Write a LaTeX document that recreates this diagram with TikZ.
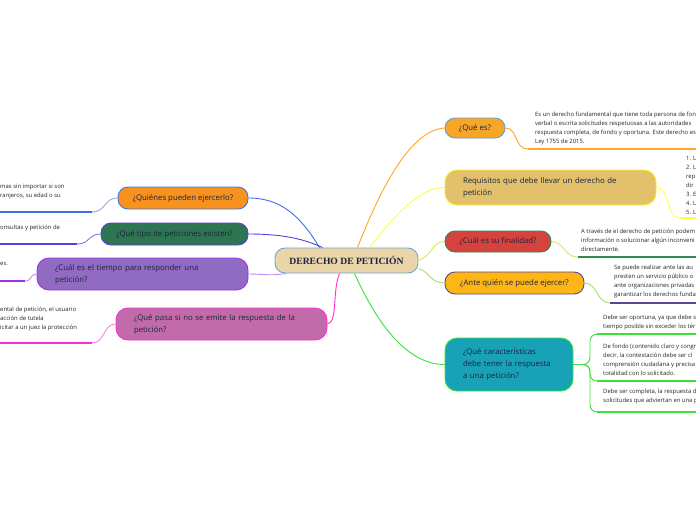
\documentclass[tikz,border=0pt]{standalone}
\usepackage{fontspec}
\setmainfont{Open Sans}
\newfontfamily\titlefont{Liberation Serif}
\usetikzlibrary{calc}
\definecolor{txt}{HTML}{1B2340}
\definecolor{ctrF}{HTML}{EAD5A8}
\definecolor{ctrB}{HTML}{6BA7D8}
\definecolor{quienF}{HTML}{F7921E}
\definecolor{quienB}{HTML}{3C74E6}
\definecolor{tipoF}{HTML}{2E7552}
\definecolor{tipoB}{HTML}{5A3FE0}
\definecolor{tiempoF}{HTML}{916AC2}
\definecolor{tiempoB}{HTML}{A030F0}
\definecolor{tiempoL}{HTML}{C28CF5}
\definecolor{pasaF}{HTML}{C26BAA}
\definecolor{pasaB}{HTML}{FF2ECC}
\definecolor{queF}{HTML}{F7A625}
\definecolor{queB}{HTML}{5B9FE0}
\definecolor{queL}{HTML}{FFA626}
\definecolor{reqF}{HTML}{E2C06C}
\definecolor{reqB}{HTML}{F8F020}
\definecolor{reqL}{HTML}{FFFF40}
\definecolor{finF}{HTML}{D6433E}
\definecolor{finB}{HTML}{2F8A52}
\definecolor{finL}{HTML}{D2EE4A}
\definecolor{anteF}{HTML}{FDB616}
\definecolor{anteB}{HTML}{5E4399}
\definecolor{anteL}{HTML}{A2E06C}
\definecolor{carF}{HTML}{18A2B8}
\definecolor{carB}{HTML}{3BE03B}
\tikzset{
  nodebox/.style={draw, line width=0.9pt, rounded corners=10pt, text=txt,
    font=\fontsize{7.8}{12}\selectfont, inner sep=0pt},
  multibox/.style={nodebox, align=left, inner xsep=18pt, rounded corners=12pt},
  leaf/.style={anchor=north west, inner sep=0pt, text=black!85,
    font=\fontsize{5.9}{9}\selectfont, align=left},
  conn/.style={line width=0.9pt},
  uline/.style={line width=1.6pt}
}
\begin{document}
\begin{tikzpicture}[x=1pt,y=-1pt]
\useasboundingbox (0,0) rectangle (696,520);
\clip (0,0) rectangle (696,520);
\fill[white] (0,0) rectangle (696,520);

% central node
\node[nodebox, fill=ctrF, draw=ctrB, minimum width=143pt, minimum height=25pt,
  font=\titlefont\bfseries\fontsize{9.6}{11}\selectfont] (ctr) at (346.5,260.5) {DERECHO DE PETICIÓN};

% left nodes
\node[nodebox, fill=quienF, draw=quienB, minimum width=130pt, minimum height=22pt] (q) at (183,198) {¿Quiénes pueden ejercerlo?};
\node[nodebox, fill=tipoF, draw=tipoB, minimum width=147pt, minimum height=22pt] (t) at (174.5,234) {¿Qué tipo de peticiones existen?};
\node[multibox, fill=tiempoF, draw=tiempoB, text width=175pt, minimum height=32pt] (tm) at (142.5,274) {¿Cuál es el tiempo para responder una\\petición?};
\node[multibox, fill=pasaF, draw=pasaB, text width=175pt, minimum height=32pt] (p) at (221.5,324) {¿Qué pasa si no se emite la respuesta de la\\petición?};

% right nodes
\node[nodebox, fill=queF, draw=queB, minimum width=60pt, minimum height=20pt] (qe) at (475,128) {¿Qué es?};
\node[multibox, fill=reqF, draw=reqB, text width=175pt, minimum height=35pt] (rq) at (550.5,187.5) {Requisitos que debe llevar un derecho de\\petición};
\node[nodebox, fill=finF, draw=finB, minimum width=106pt, minimum height=21pt] (fn) at (498,241.5) {¿Cuál es su finalidad?};
\node[nodebox, fill=anteF, draw=anteB, minimum width=139pt, minimum height=22pt] (an) at (514.5,283) {¿Ante quién se puede ejercer?};
\node[multibox, fill=carF, draw=carB, text width=92pt, minimum height=53pt] (ch) at (509,364.5) {¿Qué características\\debe tener la respuesta\\a una petición?};

% connectors from the centre
\draw[conn, quienB] ([xshift=-27pt]ctr.north) .. controls (300,215) and (280,198) .. (q.east);
\draw[conn, tipoB] ([xshift=-24pt]ctr.north) .. controls (302,238) and (280,234) .. (t.east);
\draw[conn, tiempoL] ([xshift=-60pt]ctr.south) .. controls (272,276) and (262,274) .. (tm.east);
\draw[conn, pasaB] ([xshift=-7pt]ctr.south) .. controls (332,292) and (338,322) .. (p.east);
\draw[conn, queL] ([xshift=11pt]ctr.north) .. controls (380,190) and (410,130) .. (qe.west);
\draw[conn, reqL] ([xshift=23pt]ctr.north) .. controls (395,215) and (420,187) .. (rq.west);
\draw[conn, finL] (ctr.east) .. controls (432,256) and (432,241.5) .. (fn.west);
\draw[conn, anteL] ([yshift=-8pt]ctr.east) .. controls (430,272) and (430,283) .. (an.west);
\draw[conn, carB] ([xshift=8pt]ctr.south) .. controls (380,330) and (410,364.5) .. (ch.west);

% right leaves
\coordinate (qeL) at (528,149);
\draw[conn, queL] (qe.east) .. controls (518,128) and (514,149) .. (qeL);
\draw[uline, queL] (qeL) -- (700,149);
\node[leaf] (qeT) at (535,112) {Es un derecho fundamental que tiene toda persona de fon\\verbal o escrita solicitudes respetuosas a las autoridades\\respuesta completa, de fondo y oportuna. Este derecho es\\Ley 1755 de 2015.};

\coordinate (rqL) at (680,218);
\draw[conn, reqL] (rq.east) .. controls (670,187.5) and (666,218) .. (rqL);
\draw[uline, reqL] (rqL) -- (700,218);
\node[leaf] (rqT) at (686,156) {1. L\\2. L\\rep\\dir\\3. E\\4. L\\5. L};

\coordinate (fnL) at (578,257);
\draw[conn, finL] (fn.east) .. controls (564,241.5) and (564,257) .. (fnL);
\draw[uline, finB] (fnL) -- (700,257);
\node[leaf] (fnT) at (581,229) {A través de el derecho de petición podem\\información o solucionar algún inconveni\\directamente.};

\coordinate (anL) at (610,303);
\draw[conn, anteL] (an.east) .. controls (598,283) and (596,303) .. (anL);
\draw[uline, anteB] (anL) -- (700,303);
\node[leaf] (anT) at (614,265) {Se puede realizar ante las au\\presten un servicio público o\\ante organizaciones privadas\\garantizar los derechos funda};

\coordinate (chA) at (597,334);
\coordinate (chB) at (597,381);
\coordinate (chC) at (597,412);
\draw[conn, carB, rounded corners=7pt] (ch.east) -| (590,334) -- (chA);
\draw[conn, carB, rounded corners=7pt] (ch.east) -| (590,381) -- (chB);
\draw[conn, carB, rounded corners=7pt] (ch.east) -| (590,412) -- (chC);
\draw[uline, carB] (chA) -- (700,334);
\draw[uline, carB] (chB) -- (700,381);
\draw[uline, carB] (chC) -- (700,412);
\node[leaf] (chTa) at (603,315) {Debe ser oportuna, ya que debe s\\tiempo posible sin exceder los tér};
\node[leaf] (chTb) at (603,344) {De fondo (contenido claro y congr\\decir, la contestación debe ser cl\\comprensión ciudadana y precisa\\totalidad con lo solicitado.};
\node[leaf] (chTc) at (603,389) {Debe ser completa, la respuesta d\\solicitudes que adviertan en una p};

% left leaves
\coordinate (qL) at (92,212);
\draw[conn, quienB!60] (q.west) .. controls (104,198) and (106,212) .. (qL);
\draw[uline, quienB] (qL) -- (-5,212);
\node[leaf] (qT) at (0,184) {mas sin importar si son\\ranjeros, su edad o su};

\coordinate (tL) at (77,244);
\draw[conn, tipoB!70] (t.west) .. controls (88,234) and (90,244) .. (tL);
\draw[uline, tipoB] (tL) -- (-5,244);
\node[leaf] (tT) at (0,225) {onsultas y petición de};

\coordinate (tmL) at (25,281);
\draw[conn, tiempoL] (tm.west) .. controls (30,274) and (32,281) .. (tmL);
\draw[uline, tiempoB] (tmL) -- (-5,281);
\node[leaf] (tmT) at (0,262) {es.};

\coordinate (pL) at (92,343);
\draw[conn, pasaB!60] (p.west) .. controls (103,324) and (105,343) .. (pL);
\draw[uline, pasaB] (pL) -- (-5,343);
\node[leaf] (pT) at (0,307) {ental de petición, el usuario\\acción de tutela\\icitar a un juez la protección};
\end{tikzpicture}
\end{document}
